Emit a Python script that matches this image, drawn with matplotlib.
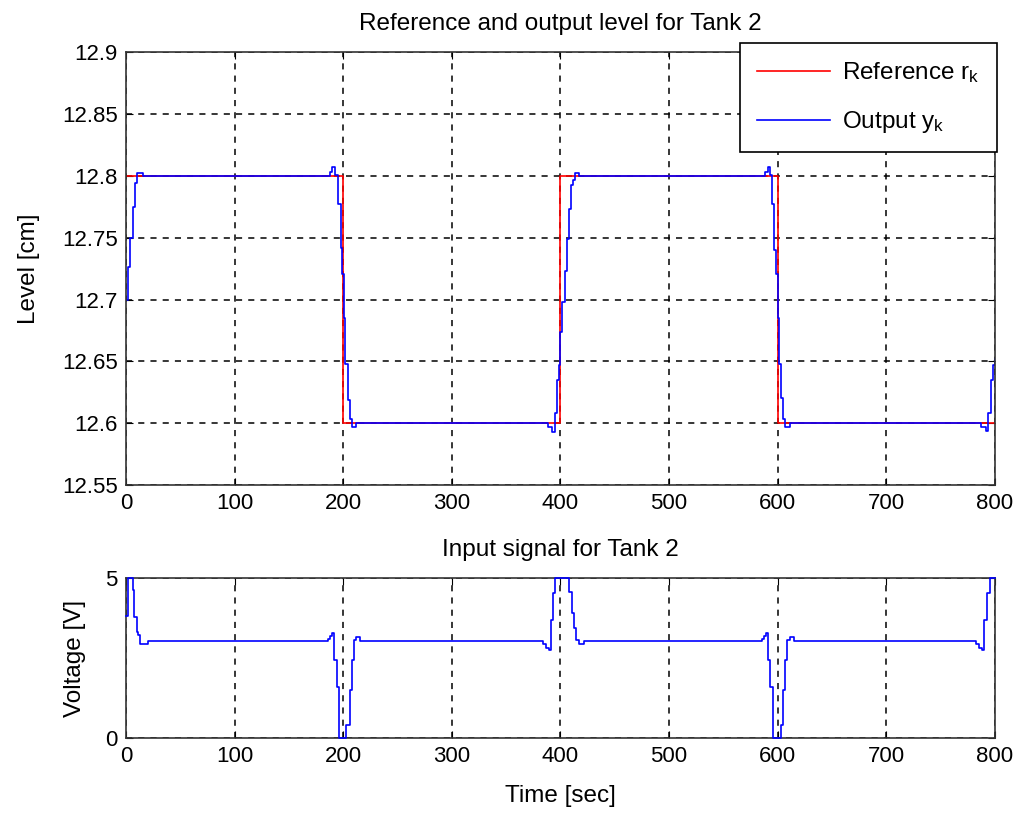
import matplotlib
matplotlib.use("Agg")
import matplotlib.pyplot as plt

plt.rcParams['font.family'] = ['Liberation Sans', 'DejaVu Sans']
plt.rcParams['mathtext.default'] = 'regular'
plt.rcParams['font.size'] = 16

# reference r_k (step changes)
ref_t = [0, 200, 400, 600, 800]
ref_y = [12.8, 12.6, 12.8, 12.6, 12.6]

out_t = [0, 2, 4, 6, 8, 10, 16,
         188, 190, 192.5, 195, 197.5, 199, 200.5, 202, 204, 206, 208, 212,
         388.5, 392, 394.5, 396.5, 399, 400, 401.5, 404, 406, 408, 410, 411.5, 413, 417,
         588.5, 591.5, 593, 594.5, 597, 598.5, 600, 601.5, 603, 605, 607, 611,
         787.5, 792, 794, 796, 798, 800]
out_y = [12.70, 12.726, 12.75, 12.775, 12.794, 12.802, 12.80,
         12.8035, 12.807, 12.801, 12.777, 12.742, 12.721, 12.685, 12.648, 12.619, 12.603, 12.597, 12.6,
         12.597, 12.593, 12.608, 12.635, 12.647, 12.674, 12.698, 12.7235, 12.749, 12.773, 12.793, 12.797, 12.802, 12.8,
         12.8035, 12.807, 12.801, 12.777, 12.74, 12.721, 12.685, 12.648, 12.62, 12.603, 12.597, 12.6,
         12.597, 12.594, 12.608, 12.635, 12.647, 12.652]

# input signal u_k [V]
in_t = [0, 1.5, 6, 7.7, 9.8, 11.3, 13, 20,
        186, 188, 190, 191.6, 193.8, 196.3, 203, 206, 208, 210, 212, 215,
        384, 387, 389.3, 391.4, 393.3, 394.8, 408.3, 410.7, 412.3, 414.7, 416.9, 421.5,
        585.5, 587.5, 589.4, 590.9, 593, 595.5, 603.2, 604.8, 606.3, 608.5, 611, 614.7,
        783, 785.5, 787.7, 790.2, 793, 795.4, 800]
in_u = [3.8, 5.0, 4.63, 3.79, 3.32, 3.22, 2.94, 3.03,
        3.1, 3.2, 3.27, 2.44, 1.6, 0.0, 0.41, 1.5, 2.44, 3.06, 3.17, 3.03,
        2.95, 2.82, 2.75, 3.69, 4.52, 5.0, 4.57, 3.9, 3.43, 3.06, 2.94, 3.03,
        3.1, 3.2, 3.27, 2.44, 1.6, 0.0, 0.41, 1.5, 2.44, 3.06, 3.17, 3.03,
        2.95, 2.82, 2.75, 3.69, 4.52, 5.0, 5.0]

xticks = list(range(0, 801, 100))
lvl_ticks = [12.55, 12.6, 12.65, 12.7, 12.75, 12.8, 12.85, 12.9]

fig = plt.figure(figsize=(10.21, 8.14), dpi=100)
ax1 = fig.add_axes([0.1234, 0.4042, 0.8511, 0.5315])
ax2 = fig.add_axes([0.1234, 0.0934, 0.8511, 0.1965])

ax1.plot(ref_t, ref_y, color='red', lw=1.2, drawstyle='steps-post', label='Reference r$_k$')
ax1.plot(out_t, out_y, color='blue', lw=1.2, drawstyle='steps-post', label='Output y$_k$')
ax1.set_xlim(0, 800)
ax1.set_ylim(12.55, 12.9)
ax1.set_xticks(xticks)
ax1.set_yticks(lvl_ticks)
ax1.set_yticklabels(['%g' % v for v in lvl_ticks])
ax1.set_title('Reference and output level for Tank 2', fontsize=17.5, pad=16)
ax1.set_ylabel('Level [cm]', fontsize=17.5, labelpad=16)

ax2.plot(in_t, in_u, color='blue', lw=1.2, drawstyle='steps-post', clip_on=False, zorder=3)
ax2.set_xlim(0, 800)
ax2.set_ylim(0, 5)
ax2.set_xticks(xticks)
ax2.set_yticks([0, 5])
ax2.set_title('Input signal for Tank 2', fontsize=17.5, pad=16)
ax2.set_ylabel('Voltage [V]', fontsize=17.5, labelpad=14)
ax2.set_xlabel('Time [sec]', fontsize=17.5, labelpad=13)

for ax in (ax1, ax2):
    ax.grid(True, color='black', linestyle=(0, (4, 4)), linewidth=1.1)
    ax.tick_params(direction='in', top=True, right=True, length=5, labelsize=16, pad=6)
    for s in ax.spines.values():
        s.set_linewidth(1.2)
        s.set_color('#333333')

leg = ax1.legend(loc='upper right', bbox_to_anchor=(997 / 1021, 1 - 43 / 814),
                 bbox_transform=fig.transFigure, borderaxespad=0, fancybox=False,
                 framealpha=1, edgecolor='black', fontsize=17.5, handlelength=3.0,
                 labelspacing=1.0, borderpad=0.7, handletextpad=0.5)
leg.get_frame().set_linewidth(1.2)

fig.savefig('out.png', dpi=100)
